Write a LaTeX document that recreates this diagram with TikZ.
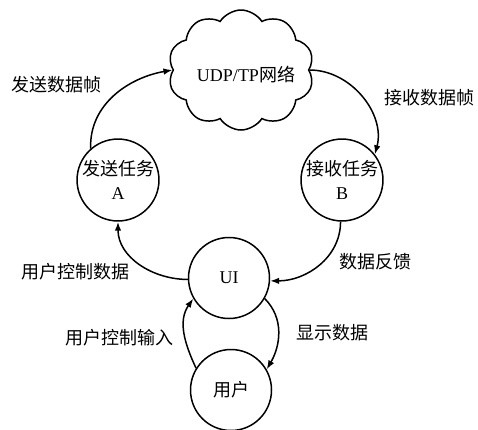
\documentclass[tikz,border=0pt]{standalone}
\usepackage{fontspec}
\setmainfont{Liberation Serif}
\newfontfamily\cjk{Noto Sans CJK SC}
\usetikzlibrary{shapes.symbols,arrows.meta}
\begin{document}
\begin{tikzpicture}[x=1pt,y=-1pt,
  every node/.style={font=\fontsize{18}{24}\selectfont},
  stnode/.style={circle,draw,line width=1.5pt,minimum size=81pt,inner sep=0pt,align=center},
  lbl/.style={inner sep=0pt},
  arr/.style={line width=1.5pt,-{Latex[length=9pt,width=6.5pt]}}]
\useasboundingbox (0,0) rectangle (478,429);
\node[cloud,draw,line width=1.5pt,cloud puffs=10,cloud puff arc=115,aspect=1.2,minimum width=146pt,minimum height=120pt,inner sep=0pt] (net) at (241,70) {};
\node[lbl] (nettext) at (246,75) {UDP/TP{\cjk 网络}};
\node[stnode] (A) at (118,180) {{\cjk 发送任务}\\A};
\node[stnode] (B) at (342,180) {{\cjk 接收任务}\\B};
\node[stnode] (UI) at (229,278) {UI};
\node[stnode] (U) at (231,390) {\cjk 用户};
\node[lbl] (l1) at (56,85) {\cjk 发送数据帧};
\node[lbl] (l2) at (429,98) {\cjk 接收数据帧};
\node[lbl] (l3) at (75,272) {\cjk 用户控制数据};
\node[lbl] (l4) at (375,262) {\cjk 数据反馈};
\node[lbl] (l5) at (119,338) {\cjk 用户控制输入};
\node[lbl] (l6) at (332,333) {\cjk 显示数据};
\draw[arr] (A.131) to[out=92,in=190] (net.west);
\draw[arr] (net.east) to[out=0,in=75] (B.38);
\draw[arr] (UI.182) to[out=180,in=-90] (A.south);
\draw[arr] (B.268) to[out=-90,in=0] (UI.356);
\draw[arr] (U.148) to[out=115,in=235] (UI.210);
\draw[arr] (UI.330) to[out=-45,in=60] (U.30);
\end{tikzpicture}
\end{document}
